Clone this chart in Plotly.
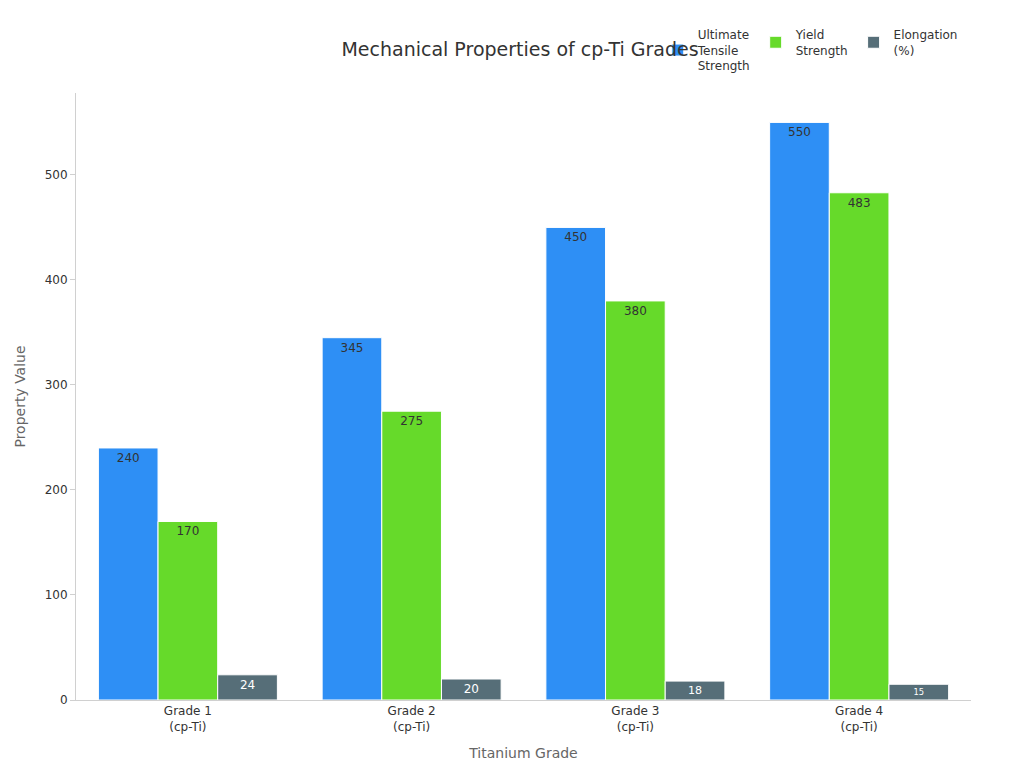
import plotly.graph_objects as go

grades = ["Grade 1<br>(cp-Ti)", "Grade 2<br>(cp-Ti)", "Grade 3<br>(cp-Ti)", "Grade 4<br>(cp-Ti)"]
uts = [240, 345, 450, 550]
yield_strength = [170, 275, 380, 483]
elongation = [24, 20, 18, 15]

series = [
    ("Ultimate<br>Tensile<br>Strength", uts, "#2E8FF5", "#333333"),
    ("Yield<br>Strength", yield_strength, "#66DA2A", "#333333"),
    ("Elongation<br>(%)", elongation, "#566E78", "white"),
]

fig = go.Figure()
for name, vals, color, tcolor in series:
    fig.add_trace(go.Bar(
        x=grades, y=vals, name=name, text=vals,
        textposition="inside", insidetextanchor="end",
        textfont=dict(color=tcolor, size=12),
        marker=dict(color=color, line=dict(color="white", width=1)),
    ))

fig.update_layout(
    barmode="group", bargap=0.2, bargroupgap=0,
    font=dict(family="DejaVu Sans", color="#333333"),
    title=dict(text="Mechanical Properties of cp-Ti Grades", x=0.5, y=0.955,
               xanchor="center", font=dict(size=19)),
    plot_bgcolor="white", paper_bgcolor="white",
    width=1024, height=768,
    margin=dict(l=68, r=61, t=85, b=76),
    legend=dict(orientation="h", x=0.65, y=1.12, xanchor="left", yanchor="top",
                font=dict(size=12), bgcolor="rgba(0,0,0,0)"),
    xaxis=dict(title=dict(text="Titanium Grade", font=dict(size=14, color="#666666")),
               showline=True, linecolor="#d0d0d0", tickfont=dict(size=12)),
    yaxis=dict(title=dict(text="Property Value", font=dict(size=14, color="#666666")),
               range=[0, 578], showline=True, linecolor="#d0d0d0", showgrid=False,
               ticks="outside", tickcolor="#d0d0d0", tickfont=dict(size=12),
               dtick=100, zeroline=False),
)

fig.write_html("out.html")
